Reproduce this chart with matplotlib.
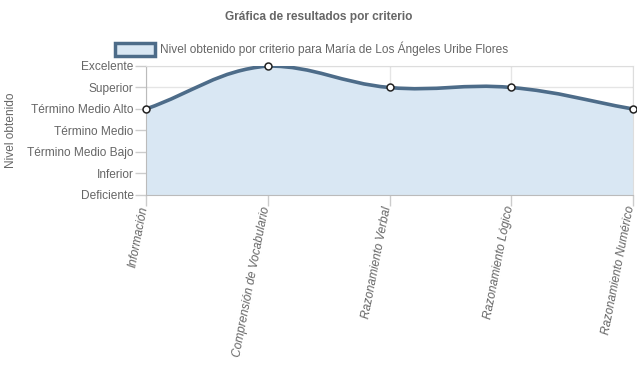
import numpy as np
import matplotlib.pyplot as plt
import matplotlib.transforms as mtransforms
from matplotlib.path import Path
from matplotlib.patches import PathPatch, Rectangle

criterios = ["Información", "Comprensión de Vocabulario", "Razonamiento Verbal",
             "Razonamiento Lógico", "Razonamiento Numérico"]
niveles = ["Deficiente", "Inferior", "Término Medio Bajo", "Término Medio",
           "Término Medio Alto", "Superior", "Excelente"]
valores = [4, 6, 5, 5, 4]
serie = "Nivel obtenido por criterio para María de Los Ángeles Uribe Flores"

texto = "#666666"
linea = "#4d6c89"
relleno = "#d9e7f3"
plt.rcParams["font.family"] = ["Liberation Sans", "DejaVu Sans"]
fs = 8.6

fig = plt.figure(figsize=(6.37, 3.89), dpi=100)
ax = fig.add_axes([146 / 637, 1 - 195 / 389, 487 / 637, 129 / 389])
x = np.arange(len(criterios))
y = np.array(valores, dtype=float)
ax.set_xlim(0, len(criterios) - 1)
ax.set_ylim(0, len(niveles) - 1)

# bezier control points like Chart.js (tension 0.4), computed in pixel space
pts = ax.transData.transform(np.column_stack([x, y]))
top, bottom = ax.transData.transform([(0, len(niveles) - 1), (0, 0)])[:, 1]
t = 0.4
ctrl_prev, ctrl_next = [], []
for i in range(len(pts)):
    p = pts[max(i - 1, 0)]
    c = pts[i]
    n = pts[min(i + 1, len(pts) - 1)]
    d01 = np.hypot(*(c - p))
    d12 = np.hypot(*(n - c))
    tot = d01 + d12
    s01 = d01 / tot if tot else 0
    s12 = d12 / tot if tot else 0
    cp = c - t * s01 * (n - p)
    cn = c + t * s12 * (n - p)
    cp[1] = np.clip(cp[1], bottom, top)
    cn[1] = np.clip(cn[1], bottom, top)
    ctrl_prev.append(cp)
    ctrl_next.append(cn)

inv = ax.transData.inverted()
verts = [pts[0]]
codes = [Path.MOVETO]
for i in range(1, len(pts)):
    verts += [ctrl_next[i - 1], ctrl_prev[i], pts[i]]
    codes += [Path.CURVE4] * 3
verts = inv.transform(np.array(verts))

fill_verts = np.vstack([verts, [[x[-1], 0], [x[0], 0], verts[0]]])
fill_codes = codes + [Path.LINETO, Path.LINETO, Path.CLOSEPOLY]
ax.add_patch(PathPatch(Path(fill_verts, fill_codes), facecolor=relleno,
                       edgecolor="none", zorder=1))
ax.add_patch(PathPatch(Path(verts, codes), facecolor="none", edgecolor=linea,
                       lw=2.6, zorder=3, capstyle="round"))
ax.plot(x, y, "o", ms=5, mfc="white", mec="#222222", mew=1.1, zorder=4,
        clip_on=False)

# x labels drawn as texts so they can sit a little left of each tick
ax.set_xticks(x)
ax.set_xticklabels([])
shift = mtransforms.ScaledTranslation(-3 / 100, -11 / 100, fig.dpi_scale_trans)
for xi, nombre in zip(x, criterios):
    ax.text(xi, 0, nombre, transform=ax.get_xaxis_transform() + shift,
            rotation=79, ha="right", va="center_baseline",
            rotation_mode="anchor", style="italic", color=texto, fontsize=fs)

ax.set_yticks(range(len(niveles)))
ax.set_yticklabels(niveles, color=texto, fontsize=fs)
ax.tick_params(axis="y", length=8, color="#cccccc", width=1, pad=1)
ax.tick_params(axis="x", length=8, color="#cccccc", width=1)
ax.grid(True, color="#000000", alpha=0.1, lw=1)
ax.set_axisbelow(True)
for s in ax.spines.values():
    s.set_color("#dddddd")
ax.spines["left"].set_color("#bbbbbb")
ax.spines["bottom"].set_color("#bbbbbb")

fig.text(11 / 637, 1 - 130 / 389, "Nivel obtenido", rotation=90, ha="center",
         va="center", color=texto, fontsize=fs)
fig.text(0.5, 1 - 17 / 389, "Gráfica de resultados por criterio", ha="center",
         va="center", color=texto, fontsize=fs, fontweight="bold")

fig.patches.append(Rectangle((115 / 637, 1 - 56 / 389), 40 / 637, 13 / 389,
                             transform=fig.transFigure, facecolor=relleno,
                             edgecolor=linea, lw=2.5))
fig.text(160 / 637, 1 - 49 / 389, serie, ha="left", va="center", color=texto,
         fontsize=fs)

fig.savefig("out.png", dpi=100)
